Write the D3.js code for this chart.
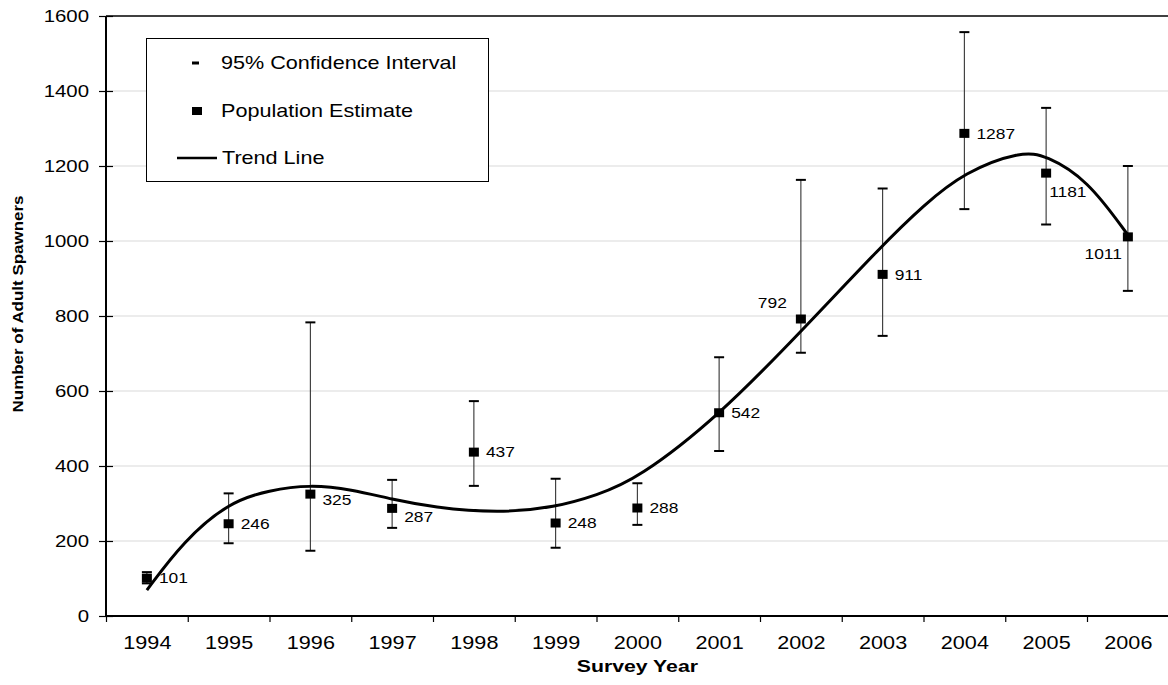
<!DOCTYPE html>
<html>
<head>
<meta charset="utf-8">
<script src="https://cdn.jsdelivr.net/npm/d3@7"></script>
<style>
  body { margin: 0; background: #fff; }
  svg { display: block; font-family: "Liberation Sans", Arial, sans-serif; }
</style>
</head>
<body>
<div id="chart"></div>
<script>
// survey data
const years = [1994, 1995, 1996, 1997, 1998, 1999, 2000, 2001, 2002, 2003, 2004, 2005, 2006];
const estimates = [101, 246, 325, 287, 437, 248, 288, 542, 792, 911, 1287, 1181, 1011];
const ciLow = [87, 194, 174, 235, 347, 182, 243, 440, 702, 747, 1085, 1044, 867];
const ciHigh = [117, 327, 783, 363, 573, 366, 354, 690, 1163, 1140, 1557, 1355, 1200];

// trend line
const trendYears = [1994, 1994.45, 1995, 1995.5, 1996, 1996.5, 1997, 1997.5, 1998.3, 1999, 1999.5, 2000, 2001, 2002, 2003, 2003.5, 2004, 2004.7, 2005, 2005.5, 2006];
const trendValues = [69, 200, 303, 336, 350, 338, 311, 290, 274, 290, 322, 365, 534, 758, 990, 1095, 1184, 1240, 1228, 1165, 1016];

const yTicks = [0, 200, 400, 600, 800, 1000, 1200, 1400, 1600];

const W = 1168, H = 685;
const mLeft = 106, mRight = 1168.75, mTop = 16, mBottom = 616;
const sx = 1.2; // text in the reference is stretched horizontally

const svg = d3.select("#chart").append("svg")
  .attr("width", W).attr("height", H);

const x = d3.scaleLinear().domain([1993.5, 2006.5]).range([mLeft, mRight]);
const y = d3.scaleLinear().domain([0, 1600]).range([mBottom, mTop]);

/* grid */
svg.append("g").selectAll("line")
  .data(yTicks.filter(d => d > 0 && d < 1600)).enter()
  .append("line")
  .attr("x1", mLeft).attr("x2", mRight)
  .attr("y1", d => y(d)).attr("y2", d => y(d))
  .attr("stroke", "#d9d9d9").attr("stroke-width", 1);

// top border
svg.append("line")
  .attr("x1", mLeft).attr("x2", mRight)
  .attr("y1", mTop).attr("y2", mTop)
  .attr("stroke", "#000").attr("stroke-width", 1.5);

/* axes */
const yAxis = svg.append("g")
  .attr("transform", `translate(${mLeft},0)`)
  .call(d3.axisLeft(y).tickValues(yTicks).tickFormat(d3.format("d")).tickSize(7).tickPadding(10));
yAxis.select(".domain").attr("stroke-width", 2).attr("d", `M0,${mTop}V${mBottom}`);
yAxis.selectAll(".tick line").attr("x1", 7).attr("x2", -7).attr("stroke-width", 1.2);
yAxis.selectAll(".tick text")
  .attr("x", null)
  .attr("transform", `translate(-17,0) scale(${sx},1)`)
  .style("font-size", "17px").attr("fill", "#000");

// boundary ticks
const xTickAxis = svg.append("g")
  .attr("transform", `translate(0,${mBottom})`)
  .call(d3.axisBottom(x).tickValues(d3.range(1993.5, 2007, 1)).tickFormat("").tickSize(6));
xTickAxis.select(".domain").attr("stroke-width", 2).attr("d", `M${mLeft},0H${W + 2}`);
xTickAxis.selectAll(".tick line").attr("stroke-width", 1.2);

// year labels
const xLab = svg.append("g")
  .attr("transform", `translate(0,${mBottom})`)
  .call(d3.axisBottom(x).tickValues(years).tickFormat(d3.format("d")).tickSize(0));
xLab.select(".domain").remove();
xLab.selectAll(".tick text")
  .attr("y", null).attr("dy", null)
  .attr("transform", `translate(0,33) scale(${sx},1)`)
  .style("font-size", "18px").attr("fill", "#000");

// axis titles
svg.append("text")
  .attr("transform", `translate(${(mLeft + mRight) / 2},672) scale(1.25,1)`)
  .attr("text-anchor", "middle")
  .style("font-size", "17px").style("font-weight", "bold")
  .text("Survey Year");

svg.append("text")
  .attr("transform", "translate(23,304) rotate(-90) scale(1.13,1)")
  .attr("text-anchor", "middle")
  .style("font-size", "15px").style("font-weight", "bold")
  .text("Number of Adult Spawners");

/* data */
const pts = years.map((yr, i) => ({ year: yr, est: estimates[i], lo: ciLow[i], hi: ciHigh[i] }));

// error bars
const eb = svg.append("g").selectAll("g").data(pts).enter().append("g");
eb.append("line")
  .attr("x1", d => x(d.year)).attr("x2", d => x(d.year))
  .attr("y1", d => y(d.lo)).attr("y2", d => y(d.hi))
  .attr("stroke", "#333").attr("stroke-width", 1.1);
eb.selectAll(".cap")
  .data(d => [{ year: d.year, v: d.lo }, { year: d.year, v: d.hi }]).enter()
  .append("line")
  .attr("class", "cap")
  .attr("x1", d => x(d.year) - 5).attr("x2", d => x(d.year) + 5)
  .attr("y1", d => y(d.v)).attr("y2", d => y(d.v))
  .attr("stroke", "#000").attr("stroke-width", 2);

// trend line
const trend = trendYears.map((t, i) => [t, trendValues[i]]);
svg.append("path")
  .datum(trend)
  .attr("fill", "none")
  .attr("stroke", "#000")
  .attr("stroke-width", 3)
  .attr("d", d3.line().x(d => x(d[0])).y(d => y(d[1])).curve(d3.curveBasis));

// markers
svg.append("g").selectAll("rect").data(pts).enter()
  .append("rect")
  .attr("x", d => x(d.year) - 5).attr("y", d => y(d.est) - 4.5)
  .attr("width", 10).attr("height", 9)
  .attr("fill", "#000");

// label placement: [dx, dy, anchor]
const labelPlace = {
  1996: [12, 6, "start"],
  1997: [12, 8, "start"],
  2002: [-14, -16, "end"],
  2005: [3, 19, "start"],
  2006: [-6, 16.5, "end"]
};
svg.append("g").selectAll("text").data(pts).enter()
  .append("text")
  .attr("transform", d => {
    const p = labelPlace[d.year] || [12, 0, "start"];
    return `translate(${x(d.year) + p[0]},${y(d.est) + p[1]}) scale(${sx},1)`;
  })
  .attr("text-anchor", d => (labelPlace[d.year] || [0, 0, "start"])[2])
  .attr("dy", "0.36em")
  .style("font-size", "14.5px")
  .text(d => d.est);

/* legend */
const lg = svg.append("g");
lg.append("rect")
  .attr("x", 146.5).attr("y", 38.5).attr("width", 342).attr("height", 143)
  .attr("fill", "#fff").attr("stroke", "#000").attr("stroke-width", 1);
lg.append("line")
  .attr("x1", 192).attr("x2", 199).attr("y1", 63).attr("y2", 63)
  .attr("stroke", "#000").attr("stroke-width", 3);
lg.append("rect")
  .attr("x", 192).attr("y", 107).attr("width", 10).attr("height", 8)
  .attr("fill", "#000");
lg.append("line")
  .attr("x1", 177).attr("x2", 217).attr("y1", 158).attr("y2", 158)
  .attr("stroke", "#000").attr("stroke-width", 2.5);
const legendItems = [["95% Confidence Interval", 221, 63], ["Population Estimate", 221, 111], ["Trend Line", 222, 158]];
lg.selectAll("text").data(legendItems).enter()
  .append("text")
  .attr("transform", d => `translate(${d[1]},${d[2]}) scale(${sx},1)`)
  .attr("dy", "0.36em")
  .style("font-size", "18px")
  .text(d => d[0]);
</script>
</body>
</html>
